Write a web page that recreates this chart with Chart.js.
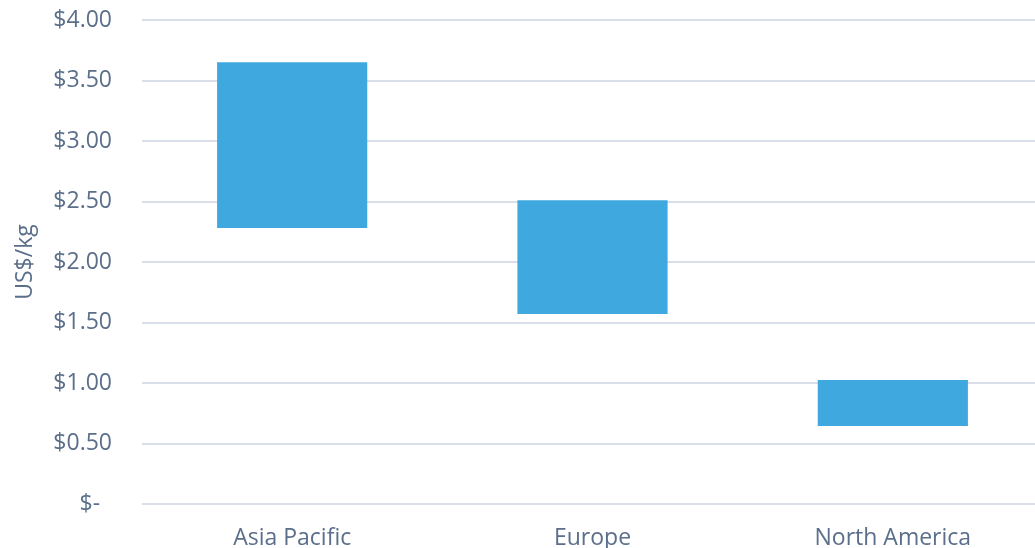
<!DOCTYPE html>
<html>
<head>
<meta charset="utf-8">
<script src="https://cdn.jsdelivr.net/npm/chart.js@4/dist/chart.umd.min.js"></script>
<style>
  html, body { margin: 0; padding: 0; background: #fff; overflow: hidden; }
  #wrap { width: 1035px; height: 548px; overflow: hidden; }
  canvas { display: block; }
</style>
</head>
<body>
<div id="wrap"><canvas id="chart" width="1043" height="548"></canvas></div>
<script>
// price range per region, US$/kg
const regions = ['Asia Pacific', 'Europe', 'North America'];
const lowPrice = [2.28, 1.57, 0.645];
const highPrice = [3.65, 2.51, 1.025];

const textColor = '#5b6f8b';
const gridColor = '#d9dee8';
const font = { family: "'Open Sans'", size: 23 };

const ranges = regions.map((r, i) => [lowPrice[i], highPrice[i]]);

new Chart(document.getElementById('chart'), {
    type: 'bar',
    data: {
        labels: regions,
        datasets: [
            {
                label: 'Price range',
                data: ranges,
                backgroundColor: '#3fa8de',
                categoryPercentage: 0.5,
                barPercentage: 1.0
            }
        ]
    },
    options: {
        responsive: false,
        animation: false,
        layout: { padding: 0 },
        plugins: {
            legend: { display: false },
            tooltip: { enabled: false }
        },
        scales: {
            x: {
                grid: { display: false, drawTicks: false },
                border: { display: false },
                ticks: {
                    color: textColor,
                    padding: 21,
                    font: font
                },
                afterFit: scale => {
                    scale.height = 44;
                    scale.paddingLeft = 0;
                    scale.paddingRight = 0;
                }
            },
            y: {
                min: 0,
                max: 4,
                grid: { color: gridColor, lineWidth: 2, drawTicks: false },
                border: { display: false },
                ticks: {
                    stepSize: 0.5,
                    color: textColor,
                    padding: 30,
                    font: font,
                    // accounting style: zero shows as a dash
                    callback: v => v === 0 ? '$-  ' : '$' + v.toFixed(2)
                },
                title: {
                    display: true,
                    text: 'US$/kg',
                    color: textColor,
                    padding: { top: 12, bottom: 0 },
                    font: font
                },
                afterFit: scale => {
                    scale.width = 142;
                    scale.paddingTop = 20;
                    scale.paddingBottom = 0;
                }
            }
        }
    }
});
</script>
</body>
</html>
